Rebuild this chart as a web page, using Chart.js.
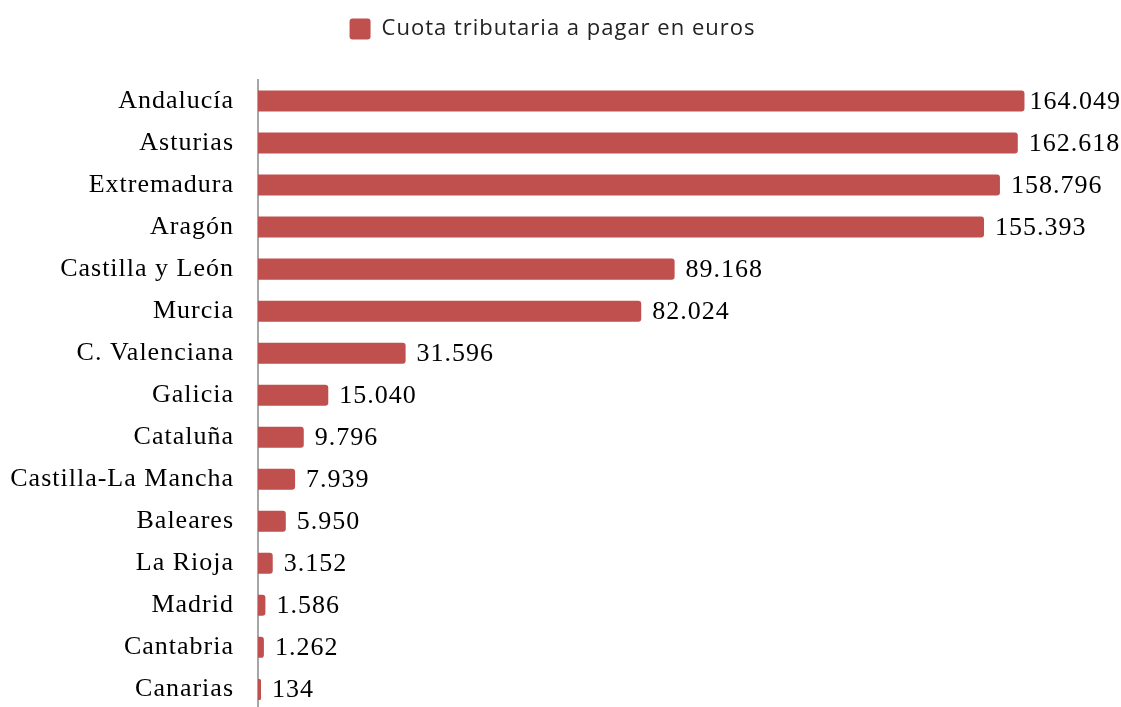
<!DOCTYPE html>
<html>
<head>
<meta charset="utf-8">
<script src="https://cdn.jsdelivr.net/npm/chart.js@4"></script>
<style>
  html, body { margin: 0; padding: 0; background: #fff; overflow: hidden; }
</style>
</head>
<body>
<canvas id="cuotaChart" width="1121" height="726"></canvas>
<script>
// Datos
const regiones = ["Andalucía", "Asturias", "Extremadura", "Aragón", "Castilla y León", "Murcia",
  "C. Valenciana", "Galicia", "Cataluña", "Castilla-La Mancha", "Baleares", "La Rioja",
  "Madrid", "Cantabria", "Canarias"];
const cuota = [164049, 162618, 158796, 155393, 89168, 82024, 31596, 15040, 9796, 7939,
  5950, 3152, 1586, 1262, 134];
const serieNombre = "Cuota tributaria a pagar en euros";

const rojo = "#C0504D";
const fuenteSerif = "'Liberation Serif', 'Times New Roman', serif";

// formato con punto de miles
function miles(v) {
  return v.toString().replace(/\B(?=(\d{3})+(?!\d))/g, ".");
}

// el original tiene el texto algo ensanchado
const espaciado = {
  id: "espaciado",
  beforeLayout(chart) { chart.ctx.letterSpacing = "1px"; },
  beforeDraw(chart) { chart.ctx.letterSpacing = "1px"; }
};

// mas aire entre la leyenda y las barras
const aireLeyenda = {
  id: "aireLeyenda",
  beforeInit(chart) {
    const fitOrig = chart.legend.fit;
    chart.legend.fit = function () {
      fitOrig.bind(chart.legend)();
      this.height += 30;
    };
  }
};

// Etiquetas al final de cada barra (sin salirse del lienzo)
const etiquetasBarras = {
  id: "etiquetasBarras",
  afterDatasetsDraw(chart) {
    const ctx = chart.ctx;
    const meta = chart.getDatasetMeta(0);
    ctx.save();
    ctx.font = "26px " + fuenteSerif;
    ctx.fillStyle = "#000";
    ctx.textAlign = "left";
    ctx.textBaseline = "middle";
    meta.data.forEach((bar, i) => {
      const txt = miles(cuota[i]);
      const w = ctx.measureText(txt).width;
      const x = Math.min(bar.x + 11, chart.width - w);
      ctx.fillText(txt, x, bar.y + 1);
    });
    ctx.restore();
  }
};

const ctx = document.getElementById("cuotaChart").getContext("2d");
new Chart(ctx, {
  type: "bar",
  data: {
    labels: regiones,
    datasets: [{
      label: serieNombre,
      data: cuota,
      backgroundColor: rojo,
      borderRadius: { topRight: 3, bottomRight: 3 },
      borderSkipped: "start",
      barPercentage: 0.5,
      categoryPercentage: 1.0,
      minBarLength: 3
    }]
  },
  options: {
    indexAxis: "y",
    responsive: false,
    animation: false,
    layout: { padding: { top: 6, right: 22, left: 6, bottom: 0 } },
    plugins: {
      legend: {
        position: "top",
        labels: {
          font: { family: "'Open Sans', 'Noto Sans', sans-serif", size: 22 },
          color: "#222",
          boxWidth: 21,
          boxHeight: 21,
          padding: 12,
          useBorderRadius: true,
          borderRadius: 3
        }
      },
      tooltip: { enabled: false }
    },
    scales: {
      x: {
        display: false,
        min: 0,
        max: 180000
      },
      y: {
        grid: { display: false, drawTicks: true, tickLength: 24 },
        border: { display: true, color: "#A6A6A6", width: 2 },
        ticks: {
          color: "#000",
          font: { family: fuenteSerif, size: 26 },
          padding: 0
        },
        afterFit(scale) { scale.width = 252; }
      }
    }
  },
  plugins: [espaciado, aireLeyenda, etiquetasBarras]
});
</script>
</body>
</html>
